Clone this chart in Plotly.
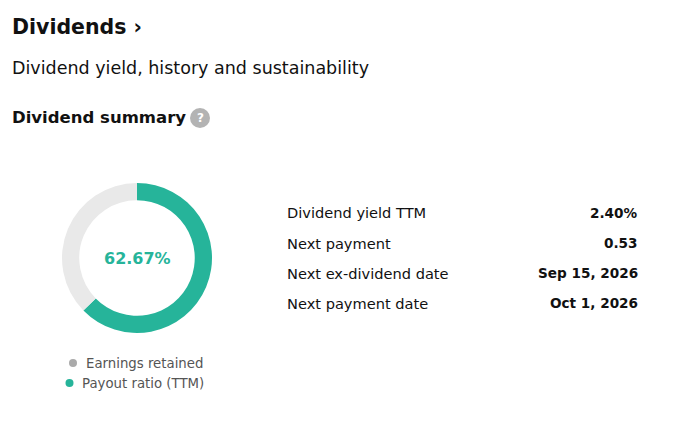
import plotly.graph_objects as go

W, H = 693, 426
slice_labels = ["Payout ratio (TTM)", "Earnings retained"]
slice_values = [62.67, 37.33]
slice_colors = ["#26b49a", "#e9e9e9"]
row_labels = ["Dividend yield TTM", "Next payment", "Next ex-dividend date", "Next payment date"]
row_values = ["2.40%", "0.53", "Sep 15, 2026", "Oct 1, 2026"]

FONT = "DejaVu Sans"
DX, DY = -10, -8  # page offset

def px(x):
    return (x + DX) / W

def py(y):
    return 1 - (y + DY) / H

fig = go.Figure()
fig.add_trace(go.Pie(
    labels=slice_labels, values=slice_values, hole=0.77, sort=False,
    direction="clockwise", rotation=0, marker=dict(colors=slice_colors),
    textinfo="none", hoverinfo="label+percent", showlegend=False,
    domain=dict(x=[px(64), px(214)], y=[py(333), py(183)]),
))

ann = []
def txt(x, y, s, size, color="#111", bold=False, anchor="left"):
    ann.append(dict(x=px(x), y=py(y), xref="paper", yref="paper", text=f"<b>{s}</b>" if bold else s,
                    showarrow=False, xanchor=anchor, yanchor="middle",
                    font=dict(family=FONT, size=size, color=color)))

txt(12, 27, "Dividends ›", 20.5, bold=True)
txt(12, 68, "Dividend yield, history and sustainability", 17.5)
txt(12, 118, "Dividend summary", 16.5, bold=True)
txt(139, 258, f"{slice_values[0]:.2f}%", 16, color=slice_colors[0], bold=True, anchor="center")
for i, (lab, val) in enumerate(zip(row_labels, row_values)):
    y = 213 + i * 30
    txt(287, y, lab, 14.6)
    txt(642, y, val, 13.6, bold=True, anchor="right")
txt(86, 363, "Earnings retained", 13.3, color="#555")
txt(82, 383, "Payout ratio (TTM)", 13.3, color="#555")
ann.append(dict(x=px(202), y=py(118), xref="paper", yref="paper", text="<b>?</b>", showarrow=False,
                xanchor="center", yanchor="middle",
                font=dict(family=FONT, size=12, color="white")))

shapes = [
    dict(type="circle", xref="paper", yref="paper", x0=px(192), x1=px(212), y0=py(128), y1=py(108),
         fillcolor="#b3b3b3", line=dict(width=0), layer="below"),
    dict(type="circle", xref="paper", yref="paper", x0=px(71), x1=px(79), y0=py(367), y1=py(359),
         fillcolor="#aaaaaa", line=dict(width=0), layer="below"),
    dict(type="circle", xref="paper", yref="paper", x0=px(67.5), x1=px(75.5), y0=py(387), y1=py(379),
         fillcolor=slice_colors[0], line=dict(width=0), layer="below"),
]
fig.update_layout(shapes=shapes, annotations=ann, width=W, height=H,
                  margin=dict(l=0, r=0, t=0, b=0), paper_bgcolor="white", plot_bgcolor="white")
fig.write_html("out.html")
